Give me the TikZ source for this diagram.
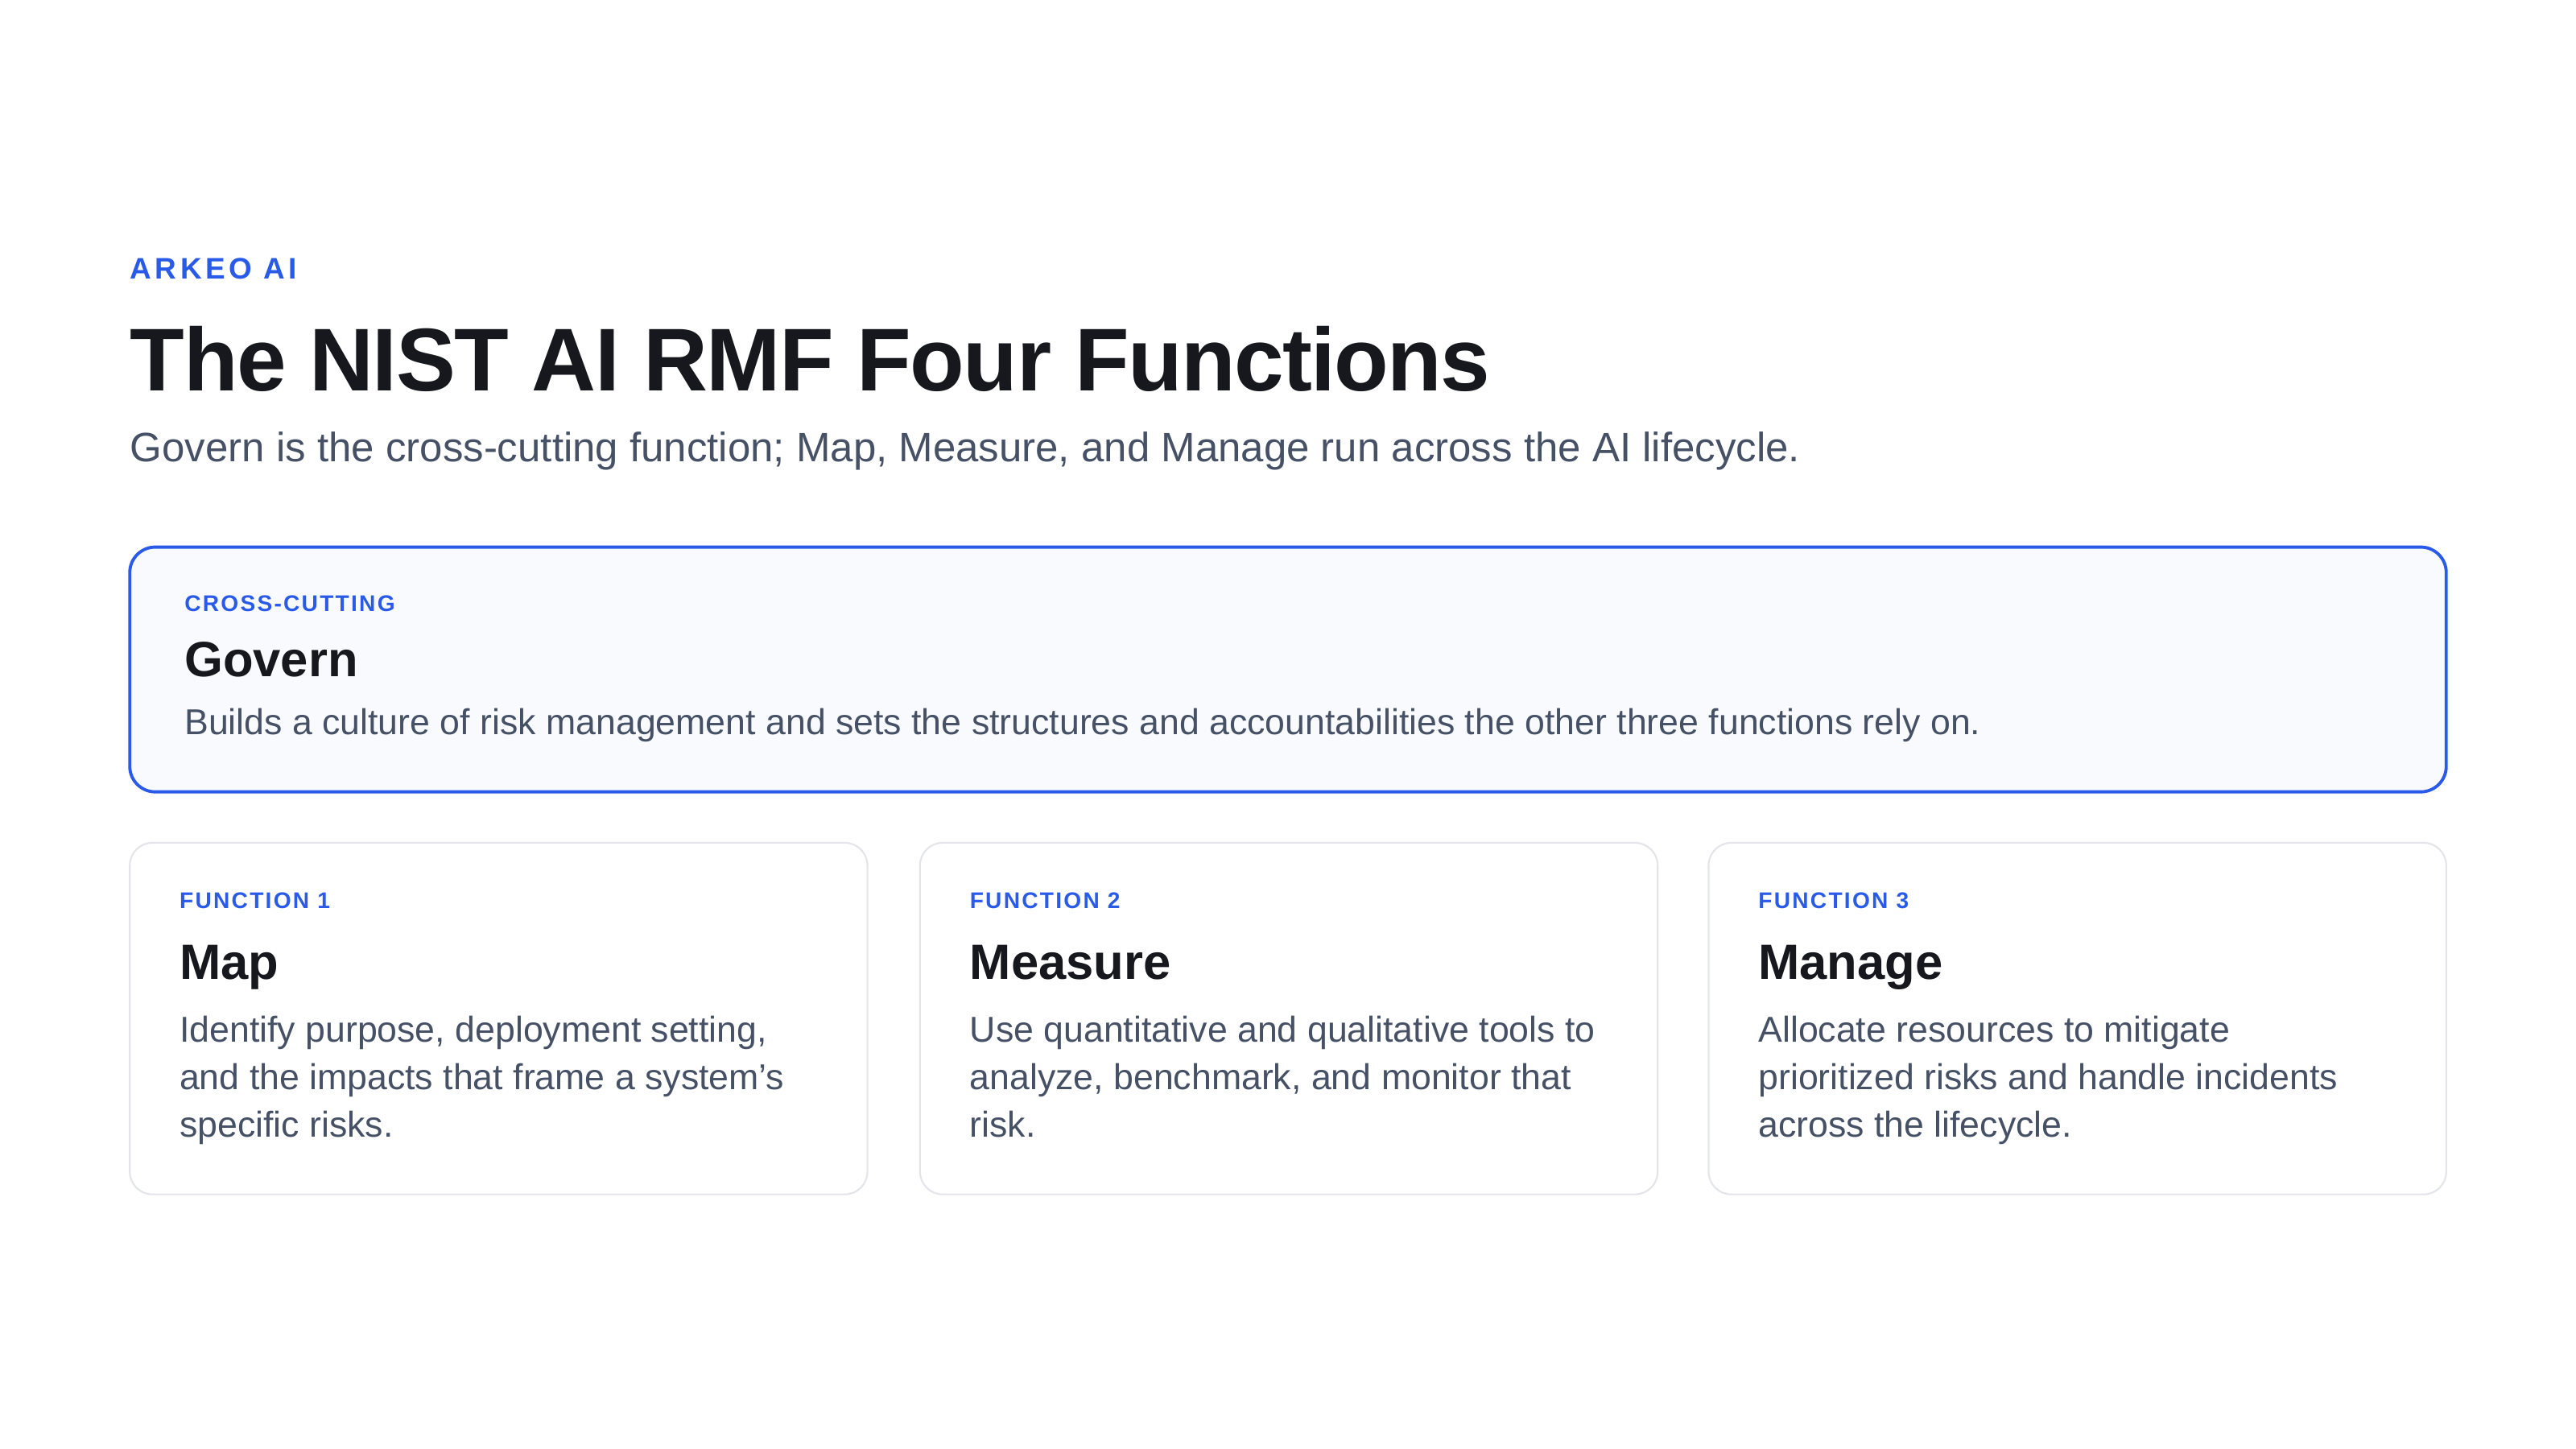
\documentclass[tikz,border=0pt]{standalone}
\usepackage{fontspec}
\setmainfont{Liberation Sans}
\usetikzlibrary{positioning}
\definecolor{accent}{HTML}{2A5BE8}
\definecolor{ink}{HTML}{16181D}
\definecolor{muted}{HTML}{465166}
\definecolor{cardline}{HTML}{E3E5EA}
\definecolor{govfill}{HTML}{F8FAFE}
\begin{document}
\begin{tikzpicture}[
        x=0.0204cm, y=-0.0204cm,
        every node/.style={inner sep=0pt, anchor=base west},
        tag/.style={text=accent, font=\fontsize{8}{10}\selectfont\bfseries\addfontfeature{LetterSpace=8}, align=left},
        head/.style={text=ink, font=\fontsize{17.5}{20}\selectfont\bfseries},
        body/.style={text=muted, font=\fontsize{12.7}{16.8}\selectfont, align=left},
        card/.style={draw=cardline, line width=0.6pt, fill=white, rounded corners=8pt}
    ]
    \useasboundingbox[fill=white] (0,0) rectangle (1568,882);

    % heading
    \node[text=accent, font=\fontsize{10.5}{12}\selectfont\bfseries\addfontfeature{LetterSpace=12}] (brand) at (79,170) {ARKEO AI};
    \node[text=ink, font=\fontsize{31.5}{40}\selectfont\bfseries\addfontfeature{LetterSpace=-1.5}] (title) at (79,238) {The NIST AI RMF Four Functions};
    \node[text=muted, font=\fontsize{14.5}{16}\selectfont] (sub) at (79,281) {Govern is the cross-cutting function; Map, Measure, and Manage run across the AI lifecycle.};

    % govern band
    \draw[draw=accent, line width=1.1pt, fill=govfill, rounded corners=9pt] (79,333) rectangle (1489,482);
    \node[tag] (govtag) at (112,372) {CROSS-CUTTING};
    \node[head] (govhead) at (112,412) {Govern};
    \node[body] (govtext) at (112,447) {Builds a culture of risk management and sets the structures and accountabilities the other three functions rely on.};

    % function cards
    \foreach \x/\n/\name/\txt in {
        79/1/Map/{Identify purpose, deployment setting,\\and the impacts that frame a system’s\\specific risks.},
        560/2/Measure/{Use quantitative and qualitative tools to\\analyze, benchmark, and monitor that\\risk.},
        1040/3/Manage/{Allocate resources to mitigate\\prioritized risks and handle incidents\\across the lifecycle.}} {
        \draw[card] (\x,513) rectangle ++(449,214);
        \node[tag] (tag\n) at (\x+30,553) {FUNCTION \n};
        \node[head] (head\n) at (\x+30,596) {\name};
        \node[body, anchor=north west] (text\n) at (\x+30,618) {\txt};
    }
\end{tikzpicture}
\end{document}
